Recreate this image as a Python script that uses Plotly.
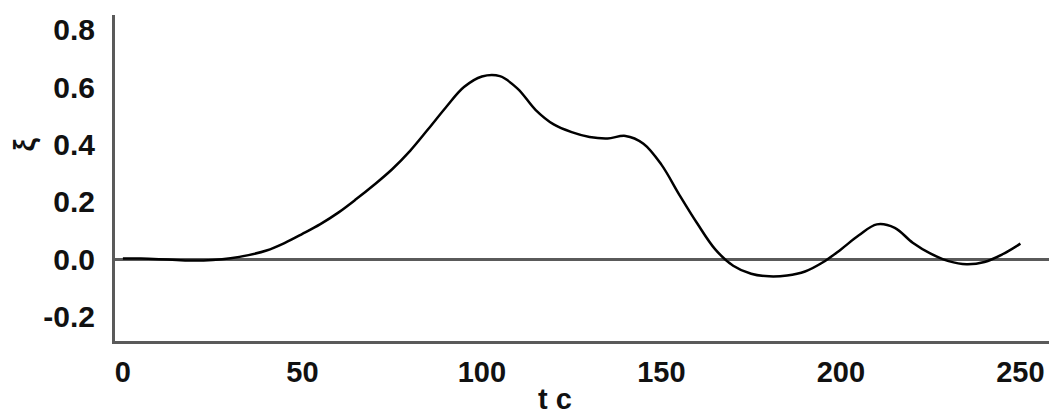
import plotly.graph_objects as go

t_vals = [0, 5, 10, 15, 20, 25, 30, 35, 40, 45, 50, 55, 60, 65, 70, 75, 80, 85, 90, 95,
          100, 105, 110, 115, 120, 125, 130, 135, 140, 145, 150, 155, 160, 165, 170,
          175, 180, 185, 190, 195, 200, 205, 210, 215, 220, 225, 230, 235, 240, 245, 250]
xi_vals = [0.003, 0.003, 0.001, -0.002, -0.004, -0.002, 0.004, 0.015, 0.031, 0.057, 0.089,
           0.123, 0.163, 0.21, 0.26, 0.314, 0.378, 0.453, 0.53, 0.6,
           0.637, 0.638, 0.594, 0.52, 0.47, 0.443, 0.426, 0.421, 0.43, 0.403, 0.33,
           0.225, 0.125, 0.035, -0.022, -0.05, -0.059, -0.056, -0.042, -0.01, 0.035, 0.084,
           0.122, 0.11, 0.058, 0.02, -0.006, -0.017, -0.009, 0.018, 0.055]

x_ticks = [0, 50, 100, 150, 200, 250]
y_ticks = [-0.2, 0.0, 0.2, 0.4, 0.6, 0.8]
y_tick_text = ["-0.2", "0.0", "0.2", "0.4", "0.6", "0.8"]

AXIS = "#5a5a5a"
FONT = dict(family="Liberation Sans, Arial, sans-serif", size=29, color="#111111", weight="bold")
YFONT = dict(family="Liberation Sans, Arial, sans-serif", size=30, color="#111111", weight="bold")

# page has an 8px body margin; figure sized to fit the 1057x414 window
W, H = 1049, 406
L, R, T, B = 107, 5, 5, 73
PW, PH = W - L - R, H - T - B

fig = go.Figure()
fig.add_trace(go.Scatter(x=t_vals, y=xi_vals, mode="lines",
                         line=dict(color="#000000", width=2.5, shape="spline", smoothing=1.0),
                         showlegend=False, hoverinfo="skip"))

fig.update_layout(
    width=W, height=H,
    margin=dict(l=L, r=R, t=T, b=B),
    paper_bgcolor="white", plot_bgcolor="white",
    font=FONT,
    xaxis=dict(range=[-2.2, 258.8], tickvals=x_ticks, showgrid=False, zeroline=False,
               showline=True, linecolor=AXIS, linewidth=3, ticks="", tickfont=FONT,
               ticklabelstandoff=3),
    yaxis=dict(range=[-0.284, 0.851], tickvals=y_ticks, ticktext=y_tick_text, showgrid=False,
               zeroline=True, zerolinecolor=AXIS, zerolinewidth=3,
               showline=True, linecolor=AXIS, linewidth=3, ticks="", tickfont=YFONT,
               ticklabelstandoff=11),
    annotations=[
        dict(text="ξ", xref="paper", yref="y", x=(17 - L) / PW, y=0.4, showarrow=False,
             textangle=-90, font=YFONT, xanchor="center", yanchor="middle"),
        dict(text="t c", xref="x", yref="paper", x=(555 - 123) / 3.59, y=-(391 - (T + PH)) / PH,
             showarrow=False, font=FONT, xanchor="center", yanchor="middle"),
    ],
)

fig.write_html("out.html")
